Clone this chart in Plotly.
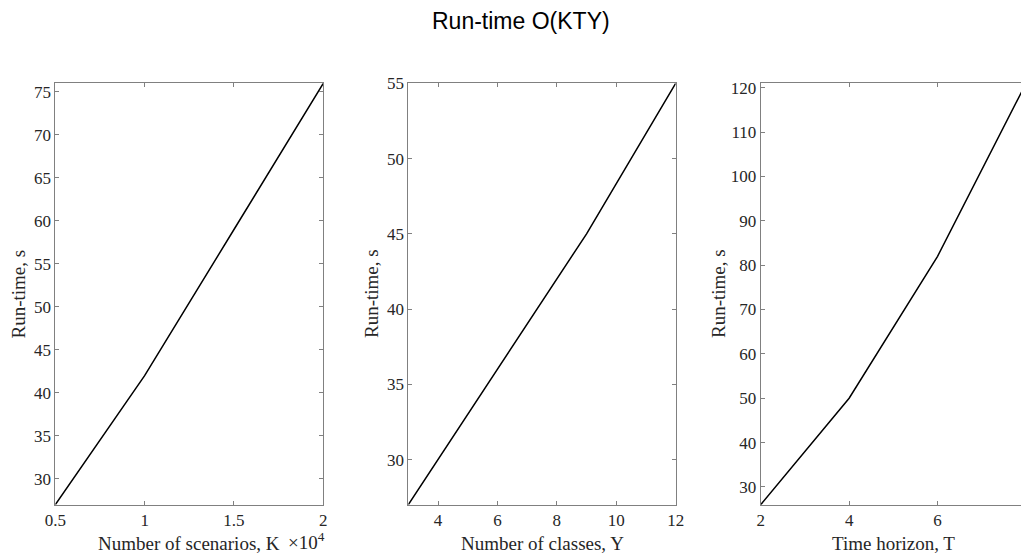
import plotly.graph_objects as go

# Data
scen_k = [0.5, 1.0, 1.5, 2.0]          # number of scenarios, x 10^4
scen_rt = [27, 42, 59, 76]
classes_y = [3, 6, 9, 12]
classes_rt = [27, 36, 45, 55]
horizon_t = [2, 4, 6, 8]
horizon_rt = [26, 50, 82, 121]

W, H = 1029, 555
OFF = 8  # page body margin offset
SERIF = "Liberation Serif, Times New Roman, serif"
SANS = "Liberation Sans, Arial, sans-serif"
AX_COL = "#808080"
TXT_COL = "#262626"

def px_x(p):
    return (p - OFF) / W

def px_y(p):
    return 1 - (p - OFF) / H

top, bottom = 83.3, 504.7
doms = [(55.3, 323.3), (408.3, 675.7), (760.7, 1026.0)]

fig = go.Figure()
series = [
    (scen_k, scen_rt, [0.5, 2], [27, 76], [0.5, 1, 1.5, 2], ["0.5", "1", "1.5", "2"], list(range(30, 80, 5))),
    (classes_y, classes_rt, [3, 12], [27, 55], [4, 6, 8, 10, 12], None, list(range(30, 60, 5))),
    (horizon_t, horizon_rt, [2, 8], [26, 121], [2, 4, 6, 8], None, list(range(30, 130, 10))),
]

for i, (xs, ys, xr, yr, xt, xtt, yt) in enumerate(series):
    n = "" if i == 0 else str(i + 1)
    fig.add_trace(go.Scatter(x=xs, y=ys, mode="lines",
                             line=dict(color="black", width=1.5),
                             xaxis="x" + n, yaxis="y" + n, showlegend=False,
                             cliponaxis=False))
    common = dict(showgrid=False, zeroline=False, showline=True, linecolor=AX_COL,
                  linewidth=1, mirror="ticks", ticks="inside", ticklen=4,
                  tickcolor=AX_COL, tickwidth=1, automargin=False,
                  ticklabeloverflow="allow",
                  tickfont=dict(family=SERIF, size=17, color=TXT_COL))
    xa = dict(common, domain=[px_x(doms[i][0]), px_x(doms[i][1])], range=xr,
              tickvals=xt, anchor="y" + n)
    if xtt:
        xa["ticktext"] = xtt
    ya = dict(common, domain=[px_y(bottom), px_y(top)], range=yr, tickvals=yt,
              anchor="x" + n)
    fig.update_layout(**{"xaxis" + n: xa, "yaxis" + n: ya})

annotations = [
    dict(text="Run-time O(KTY)", x=px_x(521), y=px_y(21), xref="paper", yref="paper",
         showarrow=False, font=dict(family=SANS, size=23, color="black"),
         xanchor="center", yanchor="middle"),
]
xtitles = ["Number of scenarios, K", "Number of classes, Y", "Time horizon, T"]
ytitle_x = [17.5, 371, 718]
for i in range(3):
    cx = (doms[i][0] + doms[i][1]) / 2
    annotations.append(dict(text=xtitles[i], x=px_x(cx), y=px_y(543), xref="paper",
                            yref="paper", showarrow=False,
                            font=dict(family=SERIF, size=19, color=TXT_COL),
                            xanchor="center", yanchor="middle"))
    annotations.append(dict(text="Run-time, s", x=px_x(ytitle_x[i]),
                            y=px_y((top + bottom) / 2), xref="paper", yref="paper",
                            showarrow=False, textangle=-90,
                            font=dict(family=SERIF, size=19, color=TXT_COL),
                            xanchor="center", yanchor="middle"))
annotations.append(dict(text="×10<sup>4</sup>", x=px_x(286), y=px_y(541),
                        xref="paper", yref="paper", showarrow=False,
                        font=dict(family=SERIF, size=19, color=TXT_COL),
                        xanchor="left", yanchor="middle"))

fig.update_layout(width=W, height=H, margin=dict(l=0, r=0, t=0, b=0),
                  paper_bgcolor="white", plot_bgcolor="white",
                  annotations=annotations, showlegend=False)

fig.write_html("out.html")
